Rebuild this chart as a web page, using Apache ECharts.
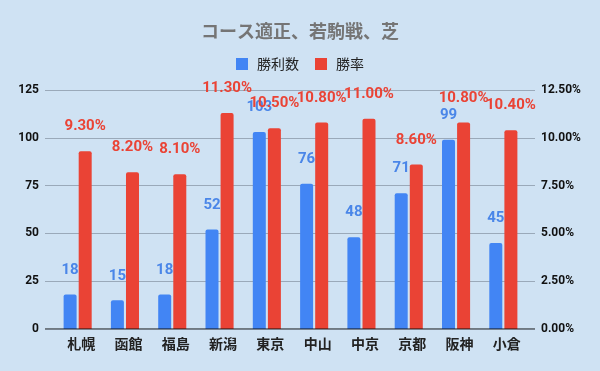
<!DOCTYPE html>
<html><head><meta charset="utf-8">
<script src="https://cdn.jsdelivr.net/npm/echarts@6/dist/echarts.min.js"></script>
<style>html,body{margin:0;padding:0;background:#cfe2f3;}#c{width:600px;height:371px;}</style>
</head><body><div id="c"></div>
<script>
const categories = ['札幌','函館','福島','新潟','東京','中山','中京','京都','阪神','小倉'];
const wins = [18,15,18,52,103,76,48,71,99,45];
const winRate = [9.3,8.2,8.1,11.3,10.5,10.8,11.0,8.6,10.8,10.4];
const leftTicks = [0,25,50,75,100,125];
const rightTicks = [0,2.5,5,7.5,10,12.5];

const chart = echarts.init(document.getElementById('c'));
const gTop = 90, gBottom = 371-329;
chart.setOption({
  backgroundColor:'#cfe2f3',
  title:{text:'コース適正、若駒戦、芝',left:'center',top:17,
    textStyle:{fontFamily:'Noto Sans CJK JP',fontSize:18,fontWeight:'bold',color:'#757575'}},
  legend:{top:52,left:'center',itemWidth:12,itemHeight:12,itemGap:16,icon:'rect',
    textStyle:{fontFamily:'Noto Sans CJK JP',fontSize:14,color:'#222',padding:[0,0,0,4]},
    data:['勝利数','勝率']},
  grid:[
    {left:45,right:65,top:gTop,bottom:gBottom},
    {left:54,right:73,top:gTop,bottom:gBottom}
  ],
  xAxis:[
    {gridIndex:0,type:'value',show:false,min:0,max:1},
    {gridIndex:1,type:'category',data:categories,
      axisLine:{show:false},axisTick:{show:false},
      axisLabel:{fontFamily:'Noto Sans CJK JP',fontSize:14,fontWeight:'bold',color:'#222',margin:8,padding:[0,0,0,7]}}
  ],
  yAxis:[
    {gridIndex:0,type:'value',min:0,max:125,interval:25,
      axisLine:{show:false},axisTick:{show:false},
      splitLine:{lineStyle:{color:'#9aa9b9',width:1}},
      axisLabel:{fontFamily:'Roboto',fontSize:12,fontWeight:'bold',color:'#111',margin:6,
        formatter:v=>leftTicks.includes(v)?String(v):''}},
    {gridIndex:0,type:'value',position:'right',min:0,max:12.5,interval:2.5,
      axisLine:{show:false},axisTick:{show:false},splitLine:{show:false},
      axisLabel:{fontFamily:'Roboto',fontSize:12,fontWeight:'bold',color:'#111',margin:6,
        formatter:v=>rightTicks.some(t=>Math.abs(t-v)<1e-9)?v.toFixed(2)+'%':''}},
    {gridIndex:1,type:'value',min:0,max:125,show:false},
    {gridIndex:1,type:'value',min:0,max:12.5,show:false}
  ],
  series:[
    {type:'line',xAxisIndex:0,yAxisIndex:0,data:[[0,0],[1,0]],symbol:'none',silent:true,
      lineStyle:{color:'#111',width:1.2},z:5},
    {name:'勝利数',type:'bar',xAxisIndex:1,yAxisIndex:2,data:wins,barWidth:13,barGap:'16%',
      itemStyle:{color:'#4285f4',borderRadius:[2,2,0,0]},
      label:{show:true,position:'top',distance:17,fontFamily:'Roboto',fontSize:15,fontWeight:'bold',color:'#4a86e8'}},
    {name:'勝率',type:'bar',xAxisIndex:1,yAxisIndex:3,data:winRate,barWidth:13,barGap:'16%',
      itemStyle:{color:'#ea4335',borderRadius:[2,2,0,0]},
      label:{show:true,position:'top',distance:17,fontFamily:'Roboto',fontSize:15,fontWeight:'bold',color:'#ea4335',
        formatter:p=>p.value.toFixed(2)+'%'}}
  ]
});
</script></body></html>
